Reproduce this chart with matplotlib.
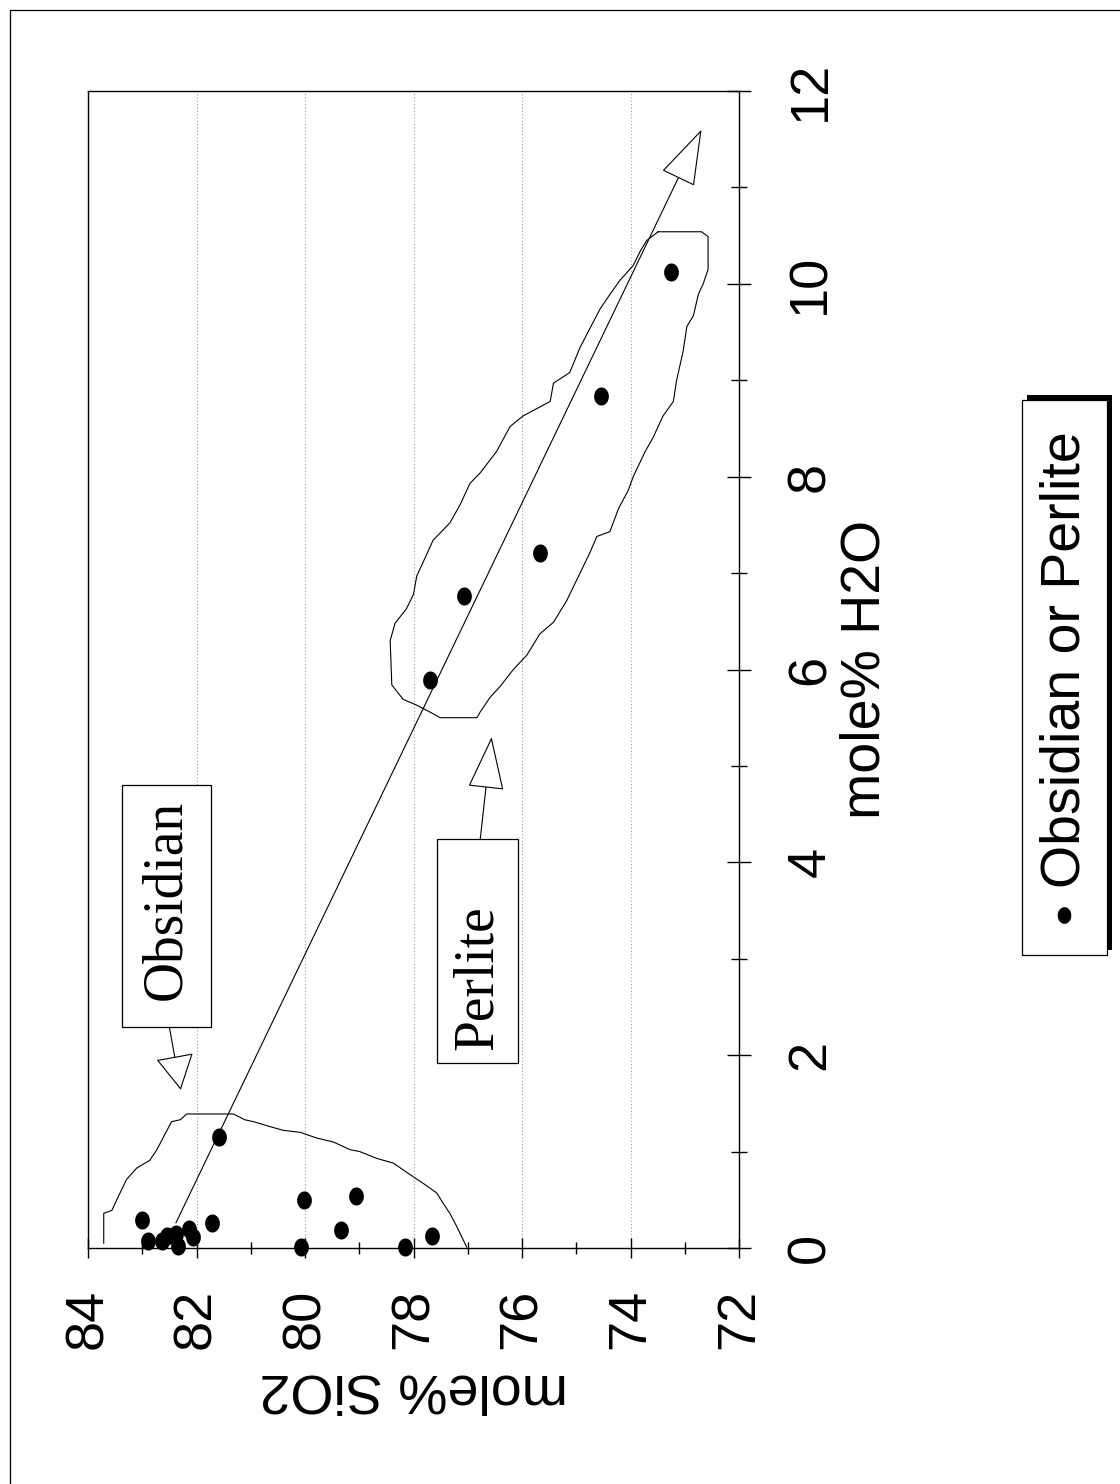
import numpy as np
import matplotlib
matplotlib.use('Agg')
import matplotlib.pyplot as plt
from matplotlib.path import Path
from matplotlib.patches import Rectangle, FancyArrowPatch, ArrowStyle
from matplotlib.lines import Line2D

plt.rcParams['font.family'] = ['Liberation Sans', 'DejaVu Sans']

# glass samples: mole% SiO2 vs mole% H2O
sio2 = [81.59, 83.01, 82.89, 82.64, 82.54, 82.38, 82.35, 82.13, 82.06, 81.72,
        80.01, 79.06, 79.34, 80.07, 78.16, 77.65,
        77.70, 77.07, 75.67, 74.54, 73.26]
h2o = [1.15, 0.29, 0.07, 0.07, 0.12, 0.15, 0.02, 0.20, 0.11, 0.26,
       0.50, 0.54, 0.19, 0.01, 0.01, 0.12,
       5.89, 6.76, 7.21, 8.84, 10.12]

# hydration trend arrow
trend_sio2 = [82.38, 72.69]
trend_h2o = [0.26, 11.6]

# obsidian field outline
obs_sio2 = [83.71, 83.71, 83.56, 83.47, 83.35, 83.29, 83.10, 82.86, 82.73, 82.61,
            82.46, 82.30, 82.18, 81.32, 81.11, 80.95, 80.65, 80.40, 80.09, 79.78,
            79.48, 79.17, 78.99, 78.68, 78.37, 78.06, 77.82, 77.57, 77.45, 77.33,
            77.20, 77.08, 77.02]
obs_h2o = [0.05, 0.36, 0.39, 0.50, 0.64, 0.71, 0.83, 0.91, 1.02, 1.15,
           1.31, 1.33, 1.39, 1.39, 1.33, 1.31, 1.26, 1.22, 1.20, 1.14,
           1.10, 1.02, 1.00, 0.93, 0.88, 0.76, 0.67, 0.57, 0.46, 0.36,
           0.22, 0.08, 0.01]

# perlite field outline (closed)
per_sio2 = [73.49, 72.69, 72.57, 72.57, 72.66, 72.75, 72.84, 72.96, 73.03, 73.15,
            73.21, 73.40, 73.58, 73.73, 73.95, 74.04, 74.22, 74.38, 74.62, 74.75,
            74.93, 75.18, 75.42, 75.67, 75.91, 76.16, 76.41, 76.59, 76.77, 76.83,
            77.51, 77.70, 77.94, 78.19, 78.40, 78.43, 78.34, 78.13, 78.00, 77.94,
            77.76, 77.64, 77.33, 77.14, 76.96, 76.77, 76.47, 76.22, 75.98, 75.48,
            75.42, 75.12, 74.93, 74.69, 74.56, 74.38, 74.19, 73.95, 73.82, 73.70,
            73.49]
per_h2o = [10.54, 10.54, 10.49, 10.15, 10.00, 9.89, 9.67, 9.56, 9.30, 9.00,
           8.78, 8.63, 8.41, 8.26, 8.00, 7.86, 7.67, 7.43, 7.38, 7.21,
           7.00, 6.71, 6.49, 6.37, 6.15, 6.00, 5.82, 5.71, 5.56, 5.50,
           5.50, 5.56, 5.63, 5.69, 5.84, 6.30, 6.48, 6.63, 6.78, 6.97,
           7.19, 7.34, 7.52, 7.71, 7.93, 8.04, 8.26, 8.52, 8.63, 8.78,
           8.97, 9.08, 9.34, 9.60, 9.74, 9.89, 10.04, 10.19, 10.34, 10.45,
           10.54]

sio2_ticks = [84, 82, 80, 78, 76, 74, 72]
h2o_ticks = [0, 2, 4, 6, 8, 10, 12]

W, H = 1120, 1484


def fpos(x, y):
    # pixel position (from top-left) -> figure fraction
    return x / W, 1 - y / H


# slightly tall dot marker
t = np.linspace(0, 2 * np.pi, 41)
dot = Path(np.column_stack([0.8 * np.cos(t), np.sin(t)]), closed=True)

fig = plt.figure(figsize=(W / 100, H / 100), dpi=100)
l, b = fpos(88, 1248)
r, tp = fpos(739, 91)
ax = fig.add_axes([l, b, r - l, tp - b])

# the whole chart is laid on its side: SiO2 runs left->right (84 -> 72), H2O runs up
ax.set_xlim(84, 72)
ax.set_ylim(0, 12)

ax.set_xticks(sio2_ticks)
ax.set_xticklabels([str(v) for v in sio2_ticks])
ax.set_xticks(np.arange(73, 84, 2), minor=True)
ax.set_yticks(h2o_ticks)
ax.set_yticklabels([str(v) for v in h2o_ticks])
ax.set_yticks(np.arange(1, 12, 2), minor=True)
ax.yaxis.tick_right()

ax.tick_params(axis='x', which='major', direction='inout', length=14, width=1,
               pad=22, labelsize=39, labelrotation=90, top=False)
ax.tick_params(axis='x', which='minor', direction='inout', length=9, width=1, top=False)
ax.tick_params(axis='y', which='major', direction='inout', length=17, width=1,
               pad=25, labelsize=39, labelrotation=90, left=False, right=True)
ax.tick_params(axis='y', which='minor', direction='inout', length=12, width=1,
               left=False, right=True)
plt.setp(ax.get_yticklabels(), va='center')

for sp in ax.spines.values():
    sp.set_linewidth(1.0)

ax.grid(axis='x', which='major', color='0.6', ls=(0, (1, 2)), lw=0.8)

ax.set_xlabel('mole% SiO2', rotation=180, fontsize=40, labelpad=10)
ax.yaxis.set_label_position('right')
ax.set_ylabel('mole% H2O', rotation=90, fontsize=40, labelpad=3)

# field outlines
ax.plot(obs_sio2, obs_h2o, color='black', lw=0.8, zorder=2)
ax.plot(per_sio2, per_h2o, color='black', lw=0.8, zorder=2)

# trend line with open arrow head
trend = FancyArrowPatch((trend_sio2[0], trend_h2o[0]), (trend_sio2[1], trend_h2o[1]),
                        arrowstyle=ArrowStyle('-|>', head_length=37, head_width=12),
                        mutation_scale=1, fc='white', ec='black', lw=0.8,
                        shrinkA=0, shrinkB=0, zorder=3, clip_on=False)
ax.add_patch(trend)

# samples
ax.plot(sio2, h2o, ls='none', marker=dot, markersize=12, color='black',
        clip_on=False, zorder=5)

# labelled boxes with pointers
serif = ['Liberation Serif', 'DejaVu Serif']
ax.add_patch(Rectangle((81.74, 2.29), 1.64, 2.51, fc='white', ec='black', lw=0.9, zorder=4))
ax.text(82.56, 3.61, 'Obsidian', rotation=90, ha='center', va='center',
        family=serif, fontsize=40, zorder=6)
ax.add_patch(FancyArrowPatch((82.50, 2.29), (82.29, 1.64),
                             arrowstyle=ArrowStyle('-|>', head_length=23, head_width=12.5),
                             mutation_scale=1, fc='white', ec='black', lw=0.8,
                             shrinkA=0, shrinkB=0, zorder=4))

ax.add_patch(Rectangle((76.07, 1.92), 1.50, 2.32, fc='white', ec='black', lw=0.9, zorder=4))
ax.text(76.82, 2.80, 'Perlite', rotation=90, ha='center', va='center',
        family=serif, fontsize=40, zorder=6)
ax.add_patch(FancyArrowPatch((76.77, 4.24), (76.56, 5.30),
                             arrowstyle=ArrowStyle('-|>', head_length=35, head_width=12),
                             mutation_scale=1, fc='white', ec='black', lw=0.8,
                             shrinkA=0, shrinkB=0, zorder=4))

# legend box with drop shadow, drawn on its side
x0, y0 = fpos(1027, 950)
x1, y1 = fpos(1112, 395)
fig.add_artist(Rectangle((x0, y0), x1 - x0, y1 - y0, transform=fig.transFigure,
                         fc='black', ec='black', lw=0))
x0, y0 = fpos(1022, 955)
x1, y1 = fpos(1107, 400)
fig.add_artist(Rectangle((x0, y0), x1 - x0, y1 - y0, transform=fig.transFigure,
                         fc='white', ec='black', lw=0.9))
fig.add_artist(Line2D([fpos(1064, 915)[0]], [fpos(1064, 915)[1]], transform=fig.transFigure,
                      ls='none', marker=dot, markersize=11, color='black'))
fig.text(*fpos(1066, 888), 'Obsidian or Perlite', rotation=90, ha='center', va='bottom',
         fontsize=40)

# outer chart frame
fx, fy = fpos(10, 10)
fig.add_artist(Line2D([fx, fx], [0, fy], transform=fig.transFigure, color='black', lw=0.9))
fig.add_artist(Line2D([fx, 1], [fy, fy], transform=fig.transFigure, color='black', lw=0.9))

fig.savefig('out.png', dpi=100, facecolor='white')
